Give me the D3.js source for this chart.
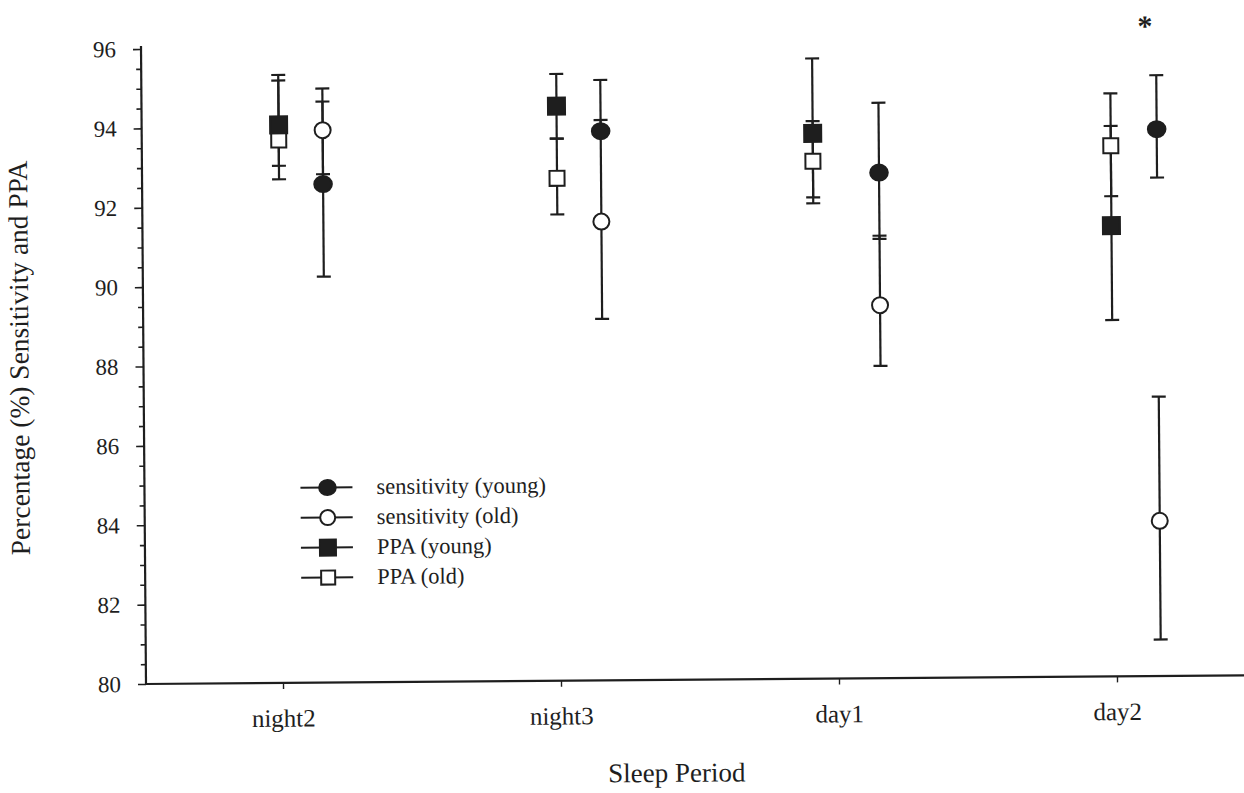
<!DOCTYPE html>
<html>
<head>
<meta charset="utf-8">
<script src="https://cdn.jsdelivr.net/npm/d3@7"></script>
<style>
  body { margin: 0; background: #fff; }
</style>
</head>
<body>
<svg id="chart" width="1244" height="793"></svg>
<script>
// ---- data ----
const categories = ["night2", "night3", "day1", "day2"];

const sensYoung   = [92.56, 93.84, 92.74, 93.78];
const sensYoungHi = [94.97, 95.13, 94.50, 95.14];
const sensYoungLo = [90.23, 93.84, 91.07, 92.56];

const sensOld     = [93.92, 91.56, 89.40, 83.91];
const sensOldHi   = [94.64, 94.12, 91.15, 87.04];
const sensOldLo   = [92.81, 89.11, 87.87, 80.92];

const ppaYoung    = [94.06, 94.48, 93.74, 91.36];
const ppaYoungHi  = [95.18, 95.29, 95.63, 93.87];
const ppaYoungLo  = [93.03, 93.66, 91.98, 88.98];

const ppaOld      = [93.68, 92.66, 93.04, 93.37];
const ppaOldHi    = [95.32, 93.66, 94.05, 94.69];
const ppaOldLo    = [92.69, 91.75, 92.13, 92.10];

const significance = ["", "", "", "*"];

const yMajorTicks = [80, 82, 84, 86, 88, 90, 92, 94, 96];
const legendLabels = ["sensitivity (young)", "sensitivity (old)", "PPA (young)", "PPA (old)"];
const xTitle = "Sleep Period";
const yTitle = "Percentage (%) Sensitivity and PPA";

// ---- layout ----
const ink = "#1e1e1e";
const serif = "'Liberation Serif', 'DejaVu Serif', serif";
const plotLeft = 146, plotTop = 49, plotBottom = 684;
// horizontal placement of the two marker columns inside each period
const ppaShift  = [0, 0, -22, -2];
const sensShift = [44, 44, 44, 44];

const x = d3.scalePoint().domain(categories).range([283, 1117]);
const y = d3.scaleLinear().domain([80, 96]).range([plotBottom, plotTop]);

const svg = d3.select("#chart").attr("font-family", serif);
// whole figure sits at a very slight tilt
const g = svg.append("g").attr("transform", `rotate(-0.45, ${plotLeft}, ${plotBottom})`);

// ---- axes ----
const yMinor = d3.axisLeft(y)
  .tickValues(d3.range(80, 96.01, 0.5).filter(v => v % 2 !== 0))
  .tickSize(5).tickSizeOuter(0).tickFormat("");
const yMajor = d3.axisLeft(y)
  .tickValues(yMajorTicks).tickSize(8).tickSizeOuter(0)
  .tickPadding(17).tickFormat(d3.format("d"));

const gyMinor = g.append("g").attr("transform", `translate(${plotLeft},0)`).call(yMinor);
const gyMajor = g.append("g").attr("transform", `translate(${plotLeft},0)`).call(yMajor);
[gyMinor, gyMajor].forEach(a => {
  a.attr("font-family", serif);
  a.select(".domain").remove();
  a.selectAll(".tick line").attr("stroke", ink).attr("stroke-width", 1.6);
});
gyMajor.selectAll(".tick text").style("font-family", serif).attr("font-size", 23).attr("fill", ink);

const xAxis = d3.axisBottom(x).tickSize(6).tickSizeOuter(0).tickPadding(20);
const gx = g.append("g").attr("transform", `translate(0,${plotBottom})`).call(xAxis);
gx.attr("font-family", serif);
gx.select(".domain").remove();
gx.selectAll(".tick line").attr("stroke", ink).attr("stroke-width", 1.4);
gx.selectAll(".tick text").style("font-family", serif).attr("font-size", 25).attr("fill", ink);

// axis lines
g.append("line").attr("x1", plotLeft).attr("x2", plotLeft)
  .attr("y1", y(96) - 3).attr("y2", plotBottom)
  .attr("stroke", ink).attr("stroke-width", 2.2);
g.append("line").attr("x1", plotLeft - 1).attr("x2", 1260)
  .attr("y1", plotBottom).attr("y2", plotBottom)
  .attr("stroke", ink).attr("stroke-width", 2.2);

// ---- series ----
const series = [
  { mean: ppaYoung,  hi: ppaYoungHi,  lo: ppaYoungLo,  shape: "square", filled: true,  shift: ppaShift },
  { mean: ppaOld,    hi: ppaOldHi,    lo: ppaOldLo,    shape: "square", filled: false, shift: ppaShift },
  { mean: sensYoung, hi: sensYoungHi, lo: sensYoungLo, shape: "circle", filled: true,  shift: sensShift },
  { mean: sensOld,   hi: sensOldHi,   lo: sensOldLo,   shape: "circle", filled: false, shift: sensShift }
];

const capHalf = 7;
const errG = g.append("g");
series.forEach(s => {
  categories.forEach((c, i) => {
    const cx = x(c) + s.shift[i];
    errG.append("line").attr("x1", cx).attr("x2", cx)
      .attr("y1", y(s.hi[i])).attr("y2", y(s.lo[i]))
      .attr("stroke", ink).attr("stroke-width", 2.2);
    [s.hi[i], s.lo[i]].forEach(v => {
      errG.append("line").attr("x1", cx - capHalf).attr("x2", cx + capHalf)
        .attr("y1", y(v)).attr("y2", y(v))
        .attr("stroke", ink).attr("stroke-width", 2.2);
    });
  });
});

function drawMarker(sel, shape, filled, cx, cy, size) {
  if (shape === "circle") {
    sel.append("ellipse").attr("cx", cx).attr("cy", cy)
      .attr("rx", filled ? size / 2 + 0.8 : size / 2).attr("ry", size / 2)
      .attr("fill", filled ? ink : "#fff").attr("stroke", ink).attr("stroke-width", 2);
  } else {
    const s = filled ? size + 1 : size - 1;
    sel.append("rect").attr("x", cx - s / 2).attr("y", cy - s / 2)
      .attr("width", s).attr("height", s)
      .attr("fill", filled ? ink : "#fff").attr("stroke", ink).attr("stroke-width", 2);
  }
}

const markG = g.append("g");
// open markers under filled ones
[1, 3, 0, 2].forEach(k => {
  const s = series[k];
  categories.forEach((c, i) => {
    drawMarker(markG, s.shape, s.filled, x(c) + s.shift[i], y(s.mean[i]), 16);
  });
});

// significance marks
categories.forEach((c, i) => {
  if (!significance[i]) return;
  g.append("text").attr("x", x(c) + 33).attr("y", y(96) - 5)
    .attr("text-anchor", "middle").attr("font-size", 30).attr("font-weight", "bold")
    .style("font-family", serif).attr("fill", ink).text(significance[i]);
});

// ---- legend ----
const legendOrder = [2, 3, 0, 1];
const legG = g.append("g");
legendLabels.forEach((lab, j) => {
  const s = series[legendOrder[j]];
  const ly = 489 + j * 30;
  legG.append("line").attr("x1", 302).attr("x2", 354).attr("y1", ly).attr("y2", ly)
    .attr("stroke", ink).attr("stroke-width", 2);
  drawMarker(legG, s.shape, s.filled, 329, ly, 15);
  legG.append("text").attr("x", 378).attr("y", ly).attr("dy", "0.3em")
    .style("font-family", serif).attr("font-size", 22.5).attr("fill", ink).text(lab);
});

// ---- titles ----
g.append("text").attr("x", 676).attr("y", 786).attr("text-anchor", "middle")
  .style("font-family", serif).attr("font-size", 27).attr("fill", ink).text(xTitle);
g.append("text").attr("transform", "translate(31,357) rotate(-90)")
  .attr("text-anchor", "middle").style("font-family", serif)
  .attr("font-size", 27.5).attr("fill", ink).text(yTitle);
</script>
</body>
</html>
